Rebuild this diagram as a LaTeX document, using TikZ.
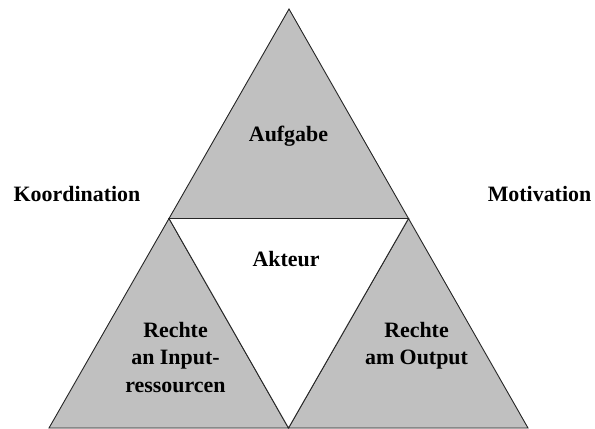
\documentclass[tikz,border=0pt]{standalone}
\usepackage{fontspec}
\setmainfont{Liberation Serif}
\tikzset{
  piece/.style={fill=triGray, draw=black!85, line width=0.9bp, line join=miter},
  hole/.style={fill=white, draw=black!85, line width=0.9bp},
  lbl/.style={font=\fontsize{22}{27.5}\selectfont\bfseries, anchor=base, inner sep=0pt, align=center},
}
\definecolor{triGray}{RGB}{192,192,192}
\begin{document}
\begin{tikzpicture}[x=1bp, y=-1bp]
\useasboundingbox (0,0) rectangle (595,428);
\coordinate (apex) at (289,9);
\coordinate (bl) at (49,428);
\coordinate (br) at (528,428);
\coordinate (ml) at (169,218.5);
\coordinate (mr) at (408.5,218.5);
\coordinate (mb) at (288.5,428);
\fill[triGray] (apex) -- (bl) -- (br) -- cycle;
\draw[piece] (apex) -- (ml) -- (mr) -- cycle;
\draw[piece] (ml) -- (bl) -- (mb) -- cycle;
\draw[piece] (mr) -- (mb) -- (br) -- cycle;
\draw[hole] (ml) -- (mr) -- (mb) -- cycle;
\node[lbl] (aufgabe) at (288.5,141) {Aufgabe};
\node[lbl] (akteur) at (286,266) {Akteur};
\node[lbl] (koord) at (77,201) {Koordination};
\node[lbl] (motiv) at (539.5,201) {Motivation};
\node[lbl, anchor=north] (input) at (175.5,322) {Rechte\\an Input-\\ressourcen};
\node[lbl, anchor=north] (output) at (416.5,322) {Rechte\\am Output};
\end{tikzpicture}
\end{document}
